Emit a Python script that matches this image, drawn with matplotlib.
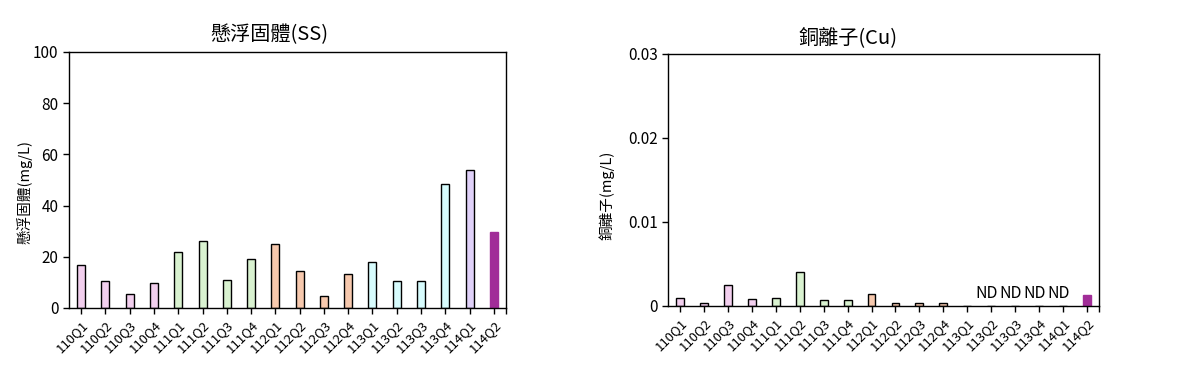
import matplotlib
matplotlib.use("Agg")
import matplotlib.pyplot as plt
import numpy as np

plt.rcParams['font.family'] = ['Noto Sans CJK TC', 'DejaVu Sans']

quarters = ['110Q1', '110Q2', '110Q3', '110Q4', '111Q1', '111Q2', '111Q3', '111Q4',
            '112Q1', '112Q2', '112Q3', '112Q4', '113Q1', '113Q2', '113Q3', '113Q4',
            '114Q1', '114Q2']
ss_values = [16.8, 10.5, 5.5, 9.8, 21.9, 26.2, 10.9, 19.1, 25.0, 14.5, 4.7, 13.3,
             18.0, 10.5, 10.5, 48.4, 53.9, 29.8]
cu_values = [0.001, 0.0003, 0.0025, 0.0008, 0.001, 0.0041, 0.0007, 0.0007, 0.0014,
             0.0003, 0.0003, 0.0003, np.nan, np.nan, np.nan, np.nan, np.nan, 0.0013]
cu_nd = [False] * 13 + [True, True, True, True, False]

# one colour per year, last quarter highlighted
year_colors = {'110': '#f2cfee', '111': '#d9f2d0', '112': '#f6c8ad',
               '113': '#d7fcfd', '114': '#e0d1f9'}
bar_colors = [year_colors[q[:3]] for q in quarters]
bar_colors[-1] = '#a12d98'

W, H = 1178, 376
fig = plt.figure(figsize=(W / 100, H / 100), dpi=100)

def px_axes(left, right, top, bottom):
    return fig.add_axes([left / W, 1 - bottom / H, (right - left) / W, (bottom - top) / H])

def style_axes(ax):
    x = np.arange(len(quarters))
    ax.set_xlim(-0.5, len(quarters) - 0.5)
    ax.set_xticks(x)
    ax.set_xticklabels(quarters, rotation=45, ha='right', rotation_mode='anchor', fontsize=9.5)
    ax.set_xticks([len(quarters) - 0.5], minor=True)
    ax.tick_params(axis='x', which='both', direction='out', length=4, width=1, pad=3)
    ax.tick_params(axis='y', direction='out', length=4, width=1, labelsize=11)
    for s in ax.spines.values():
        s.set_linewidth(1)
        s.set_color('black')

x = np.arange(len(quarters))
edge_colors = ['black'] * (len(quarters) - 1) + [bar_colors[-1]]

ax1 = px_axes(69, 506, 52, 308)
ax1.bar(x, ss_values, width=0.33, color=bar_colors, edgecolor=edge_colors, linewidth=1)
ax1.set_ylim(0, 100)
ax1.set_yticks([0, 20, 40, 60, 80, 100])
style_axes(ax1)
fig.text(269 / W, 1 - 35 / H, '懸浮固體(SS)', ha='center', va='center', fontsize=14.5)
fig.text(25 / W, 1 - 192 / H, '懸浮固體(mg/L)', ha='center', va='center', rotation=90, fontsize=10.5)

ax2 = px_axes(668, 1099, 54, 306)
cu_plot = np.nan_to_num(np.array(cu_values))
ax2.bar(x, cu_plot, width=0.33, color=bar_colors, edgecolor=edge_colors, linewidth=1)
for i, nd in enumerate(cu_nd):
    if nd:
        ax2.annotate('ND', (i, 0), xytext=(-3, 3), textcoords='offset points',
                     ha='center', va='bottom', fontsize=11.5)
ax2.set_ylim(0, 0.03)
ax2.set_yticks([0, 0.01, 0.02, 0.03])
ax2.set_yticklabels(['0', '0.01', '0.02', '0.03'])
style_axes(ax2)
fig.text(848 / W, 1 - 38 / H, '銅離子(Cu)', ha='center', va='center', fontsize=14.5)
fig.text(607 / W, 1 - 195 / H, '銅離子(mg/L)', ha='center', va='center', rotation=90, fontsize=10.5)

fig.savefig('out.png', dpi=100)
